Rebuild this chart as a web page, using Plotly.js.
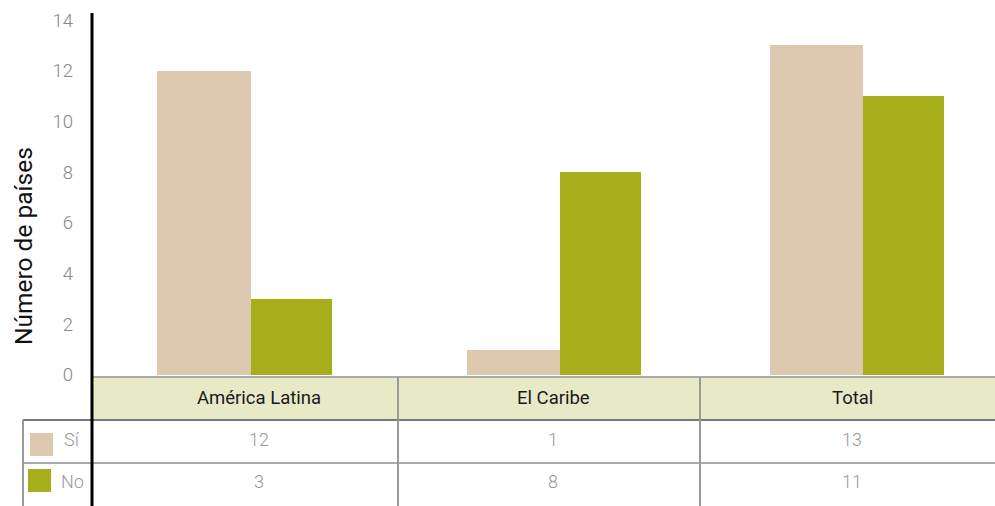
<!DOCTYPE html>
<html><head><meta charset="utf-8">
<script src="https://cdn.plot.ly/plotly-3.0.1.min.js"></script>
<style>body{margin:0;padding:0;background:#fff}#chart{width:995px;height:506px}</style>
</head><body><div id="chart"></div>
<script>
const categories = ['América Latina', 'El Caribe', 'Total'];
const seriesNames = ['Sí', 'No'];
const siValues = [12, 1, 13];
const noValues = [3, 8, 11];
const yTicks = [0, 2, 4, 6, 8, 10, 12, 14];

const W = 995, H = 506, L = 92, T = 13, B = 375;
const pw = W - L, ph = B - T;
const px = v => (v - L) / pw;
const py = v => (B - v) / ph;
const colSi = '#ddc9b0', colNo = '#a7ae1c';
const font = 'Roboto, sans-serif';
const lightFont = '"Roboto Light", Roboto, sans-serif';

const traces = [
  {type:'bar', x:categories, y:siValues, name:seriesNames[0], marker:{color:colSi}, width:[0.312, 0.309, 0.309], offset:[-0.284, -0.254, -0.248], hoverinfo:'skip'},
  {type:'bar', x:categories, y:noValues, name:seriesNames[1], marker:{color:colNo}, width:[0.269, 0.269, 0.269], offset:[0.028, 0.055, 0.061], hoverinfo:'skip'}
];

const textCenters = [259, 553, 852];
const shapes = [];
const ann = [];
// header fill
shapes.push({type:'rect', xref:'paper', yref:'paper', x0:px(92), x1:px(995), y0:py(377), y1:py(420), fillcolor:'#e8eac7', line:{width:0}, layer:'below'});
// horizontal lines
shapes.push({type:'line', xref:'paper', yref:'paper', x0:px(92), x1:px(995), y0:py(377), y1:py(377), line:{color:'#aaaaaa', width:2}});
shapes.push({type:'line', xref:'paper', yref:'paper', x0:px(23), x1:px(995), y0:py(420), y1:py(420), line:{color:'#777777', width:2}});
shapes.push({type:'line', xref:'paper', yref:'paper', x0:px(23), x1:px(995), y0:py(463), y1:py(463), line:{color:'#aaaaaa', width:2}});
// vertical lines
[398, 700].forEach(xv => shapes.push({type:'line', xref:'paper', yref:'paper', x0:px(xv), x1:px(xv), y0:py(377), y1:py(506), line:{color:'#999999', width:2}}));
shapes.push({type:'line', xref:'paper', yref:'paper', x0:px(23), x1:px(23), y0:py(420), y1:py(506), line:{color:'#999999', width:2}});
// axis line
shapes.push({type:'line', xref:'paper', yref:'paper', x0:px(92), x1:px(92), y0:py(13), y1:py(506), line:{color:'#000000', width:3}});
// legend swatches
shapes.push({type:'rect', xref:'paper', yref:'paper', x0:px(30), x1:px(53), y0:py(433), y1:py(456), fillcolor:colSi, line:{width:0}});
shapes.push({type:'rect', xref:'paper', yref:'paper', x0:px(28), x1:px(51), y0:py(469), y1:py(492), fillcolor:colNo, line:{width:0}});
ann.push({xref:'paper', yref:'paper', x:px(62), y:py(439), text:seriesNames[0], showarrow:false, xanchor:'left', yanchor:'middle', font:{family:lightFont, size:18, color:'#999999', weight:300}});
ann.push({xref:'paper', yref:'paper', x:px(59), y:py(481), text:seriesNames[1], showarrow:false, xanchor:'left', yanchor:'middle', font:{family:lightFont, size:18, color:'#999999', weight:300}});

categories.forEach((c, i) => {
  const cx = textCenters[i];
  ann.push({xref:'paper', yref:'paper', x:px(cx), y:py(398), text:c, showarrow:false, xanchor:'center', yanchor:'middle', font:{family:font, size:18.5, color:'#1a1a1a'}});
  ann.push({xref:'paper', yref:'paper', x:px(cx), y:py(439), text:String(siValues[i]), showarrow:false, xanchor:'center', yanchor:'middle', font:{family:lightFont, size:18, color:'#999999', weight:300}});
  ann.push({xref:'paper', yref:'paper', x:px(cx), y:py(481), text:String(noValues[i]), showarrow:false, xanchor:'center', yanchor:'middle', font:{family:lightFont, size:18, color:'#999999', weight:300}});
});
ann.push({xref:'paper', yref:'paper', x:px(23), y:py(246), text:'Número de países', showarrow:false, textangle:-90, xanchor:'center', yanchor:'middle', font:{family:font, size:24.5, color:'#111111'}});

const layout = {
  width:W, height:H, margin:{l:L, r:0, t:T, b:H-B, pad:0},
  paper_bgcolor:'#ffffff', plot_bgcolor:'#ffffff', showlegend:false, bargap:0,
  xaxis:{type:'category', range:[-0.5, 2.5], showticklabels:false, showgrid:false, zeroline:false, showline:false, ticks:''},
  yaxis:{range:[0, 14.28], tickvals:yTicks, ticktext:yTicks.map(String), showgrid:false, zeroline:false, showline:false, ticks:'', ticklabelstandoff:18, tickfont:{family:lightFont, size:18.5, color:'#888888', weight:300}},
  shapes:shapes, annotations:ann
};
Plotly.newPlot('chart', traces, layout, {displayModeBar:false, staticPlot:true});
</script></body></html>
